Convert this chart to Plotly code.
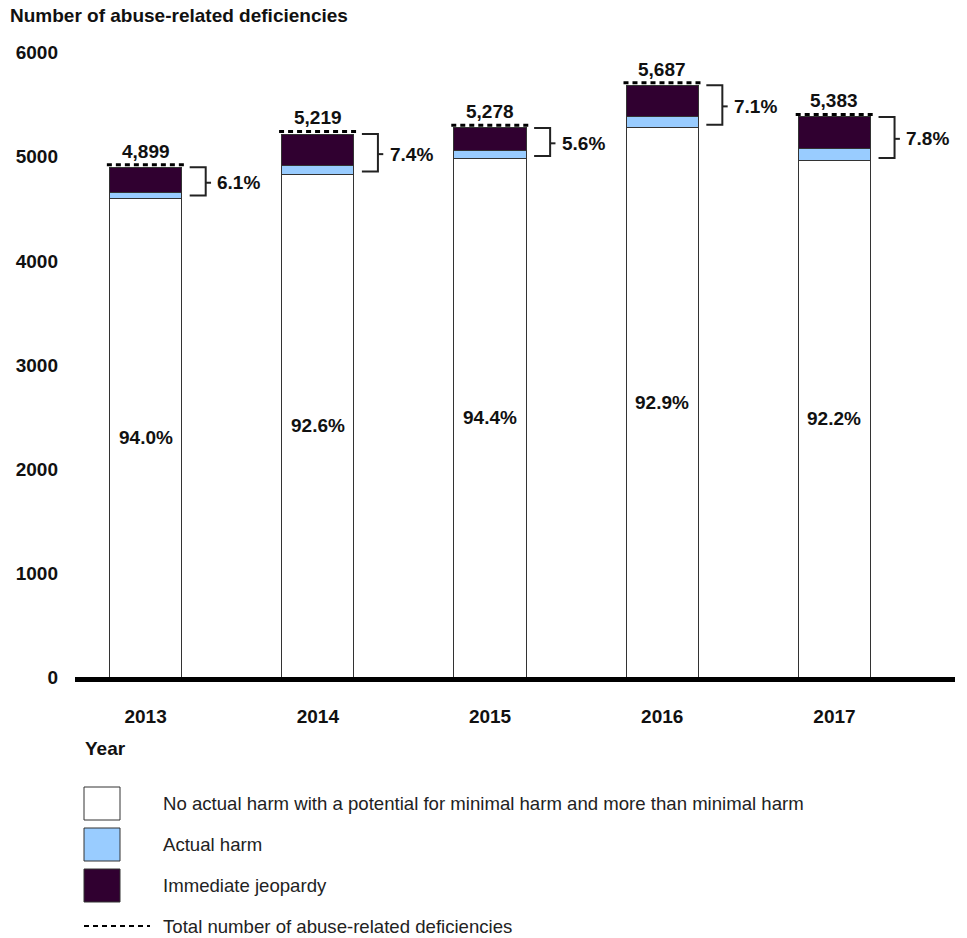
import plotly.graph_objects as go

years = ["2013", "2014", "2015", "2016", "2017"]
no_harm = [4603, 4833, 4982, 5283, 4963]
actual_harm = [55, 79, 78, 105, 117]
immediate_jeopardy = [241, 307, 218, 299, 303]
totals = [4899, 5219, 5278, 5687, 5383]
total_labels = ["4,899", "5,219", "5,278", "5,687", "5,383"]
no_harm_pct = ["94.0%", "92.6%", "94.4%", "92.9%", "92.2%"]
other_pct = ["6.1%", "7.4%", "5.6%", "7.1%", "7.8%"]

FONT = "Liberation Sans, Arial, sans-serif"
C_WHITE = "#FFFFFF"
C_BLUE = "#99CCFF"
C_DARK = "#300030"
EDGE = "#333333"
BOLD_SIZE = 19
LEG_SIZE = 18.6

W, H = 967, 938
L, R, T, B = 75, 955, 32, 677
YMAX = 6200


def px_x(px):
    return (px - L) / (R - L)


def px_y(py):
    return (B - py) / (B - T)


xs = list(range(len(years)))
BW = 0.42

fig = go.Figure()
for name, vals, col in [
    ("No actual harm", no_harm, C_WHITE),
    ("Actual harm", actual_harm, C_BLUE),
    ("Immediate jeopardy", immediate_jeopardy, C_DARK),
]:
    fig.add_trace(go.Bar(
        x=xs, y=vals, name=name, width=BW,
        marker=dict(color=col, line=dict(color=EDGE, width=1)),
        showlegend=False, hoverinfo="skip",
    ))

# dashed total lines (drawn just above the bar tops)
DASH_GAP = 25
dx, dy = [], []
for i, t in enumerate(totals):
    dx += [i - 0.225, i + 0.225, None]
    dy += [t + DASH_GAP, t + DASH_GAP, None]
fig.add_trace(go.Scatter(
    x=dx, y=dy, mode="lines",
    line=dict(color="black", width=3, dash="5px,4px"),
    showlegend=False, hoverinfo="skip",
))

# brackets
bx, by = [], []
for i, (t, w) in enumerate(zip(totals, no_harm)):
    mid = (t + w) / 2
    bx += [i + 0.256, i + 0.349, i + 0.349, i + 0.256, None, i + 0.349, i + 0.38, None]
    by += [t, t, w + 25, w + 25, None, mid, mid, None]
fig.add_trace(go.Scatter(
    x=bx, y=by, mode="lines",
    line=dict(color="#222222", width=2),
    showlegend=False, hoverinfo="skip",
))

ann = []
for i in xs:
    ann.append(dict(x=i, y=totals[i] + DASH_GAP, text="<b>%s</b>" % total_labels[i],
                    showarrow=False, yanchor="bottom", yshift=1,
                    font=dict(family=FONT, size=BOLD_SIZE, color="#111")))
    ann.append(dict(x=i, y=no_harm[i] / 2, text="<b>%s</b>" % no_harm_pct[i],
                    showarrow=False, font=dict(family=FONT, size=BOLD_SIZE, color="#111")))
    ann.append(dict(x=i + 0.405, y=(totals[i] + no_harm[i]) / 2,
                    text="<b>%s</b>" % other_pct[i], showarrow=False,
                    xanchor="left", font=dict(family=FONT, size=BOLD_SIZE, color="#111")))

ann.append(dict(x=px_x(8), y=px_y(15), xref="paper", yref="paper",
                text="<b>Number of abuse-related deficiencies</b>", showarrow=False,
                xanchor="left", yanchor="middle",
                font=dict(family=FONT, size=BOLD_SIZE, color="#111")))
ann.append(dict(x=px_x(83), y=px_y(748), xref="paper", yref="paper",
                text="<b>Year</b>", showarrow=False, xanchor="left", yanchor="middle",
                font=dict(family=FONT, size=BOLD_SIZE, color="#111")))

shapes = []
legend_items = [
    ("No actual harm with a potential for minimal harm and more than minimal harm", C_WHITE, 787),
    ("Actual harm", C_BLUE, 828),
    ("Immediate jeopardy", C_DARK, 869),
]
for text, col, top in legend_items:
    shapes.append(dict(type="rect", xref="paper", yref="paper",
                       x0=px_x(84), x1=px_x(120), y0=px_y(top), y1=px_y(top + 33),
                       fillcolor=col, line=dict(color=EDGE, width=1)))
    ann.append(dict(x=px_x(161), y=px_y(top + 16.5), xref="paper", yref="paper",
                    text=text, showarrow=False, xanchor="left", yanchor="middle",
                    font=dict(family=FONT, size=LEG_SIZE, color="#222")))
shapes.append(dict(type="line", xref="paper", yref="paper",
                   x0=px_x(84), x1=px_x(150), y0=px_y(926), y1=px_y(926),
                   line=dict(color="black", width=2, dash="5px,4px")))
ann.append(dict(x=px_x(161), y=px_y(926), xref="paper", yref="paper",
                text="Total number of abuse-related deficiencies", showarrow=False,
                xanchor="left", yanchor="middle",
                font=dict(family=FONT, size=LEG_SIZE, color="#222")))

fig.update_layout(
    width=W, height=H,
    margin=dict(l=L, r=W - R, t=T, b=H - B),
    plot_bgcolor="white", paper_bgcolor="white",
    barmode="stack",
    annotations=ann, shapes=shapes,
    showlegend=False,
    font=dict(family=FONT),
)
fig.update_xaxes(
    range=[-0.41, 4.70], tickvals=xs, ticktext=["<b>%s</b>" % y for y in years],
    showline=True, linewidth=5, linecolor="black", showgrid=False, zeroline=False,
    ticks="", ticklabelstandoff=18,
    tickfont=dict(family=FONT, size=BOLD_SIZE, color="#111"),
)
fig.update_yaxes(
    range=[0, YMAX], tickvals=[0, 1000, 2000, 3000, 4000, 5000, 6000],
    ticktext=["<b>%d</b>" % v for v in [0, 1000, 2000, 3000, 4000, 5000, 6000]],
    showline=False, showgrid=False, zeroline=False, ticks="",
    ticklabelstandoff=16,
    tickfont=dict(family=FONT, size=BOLD_SIZE, color="#111"),
)

fig.write_html(
    "out.html",
    config={"displayModeBar": False},
    post_script="document.body.style.margin='0';document.body.style.overflow='hidden';",
)
